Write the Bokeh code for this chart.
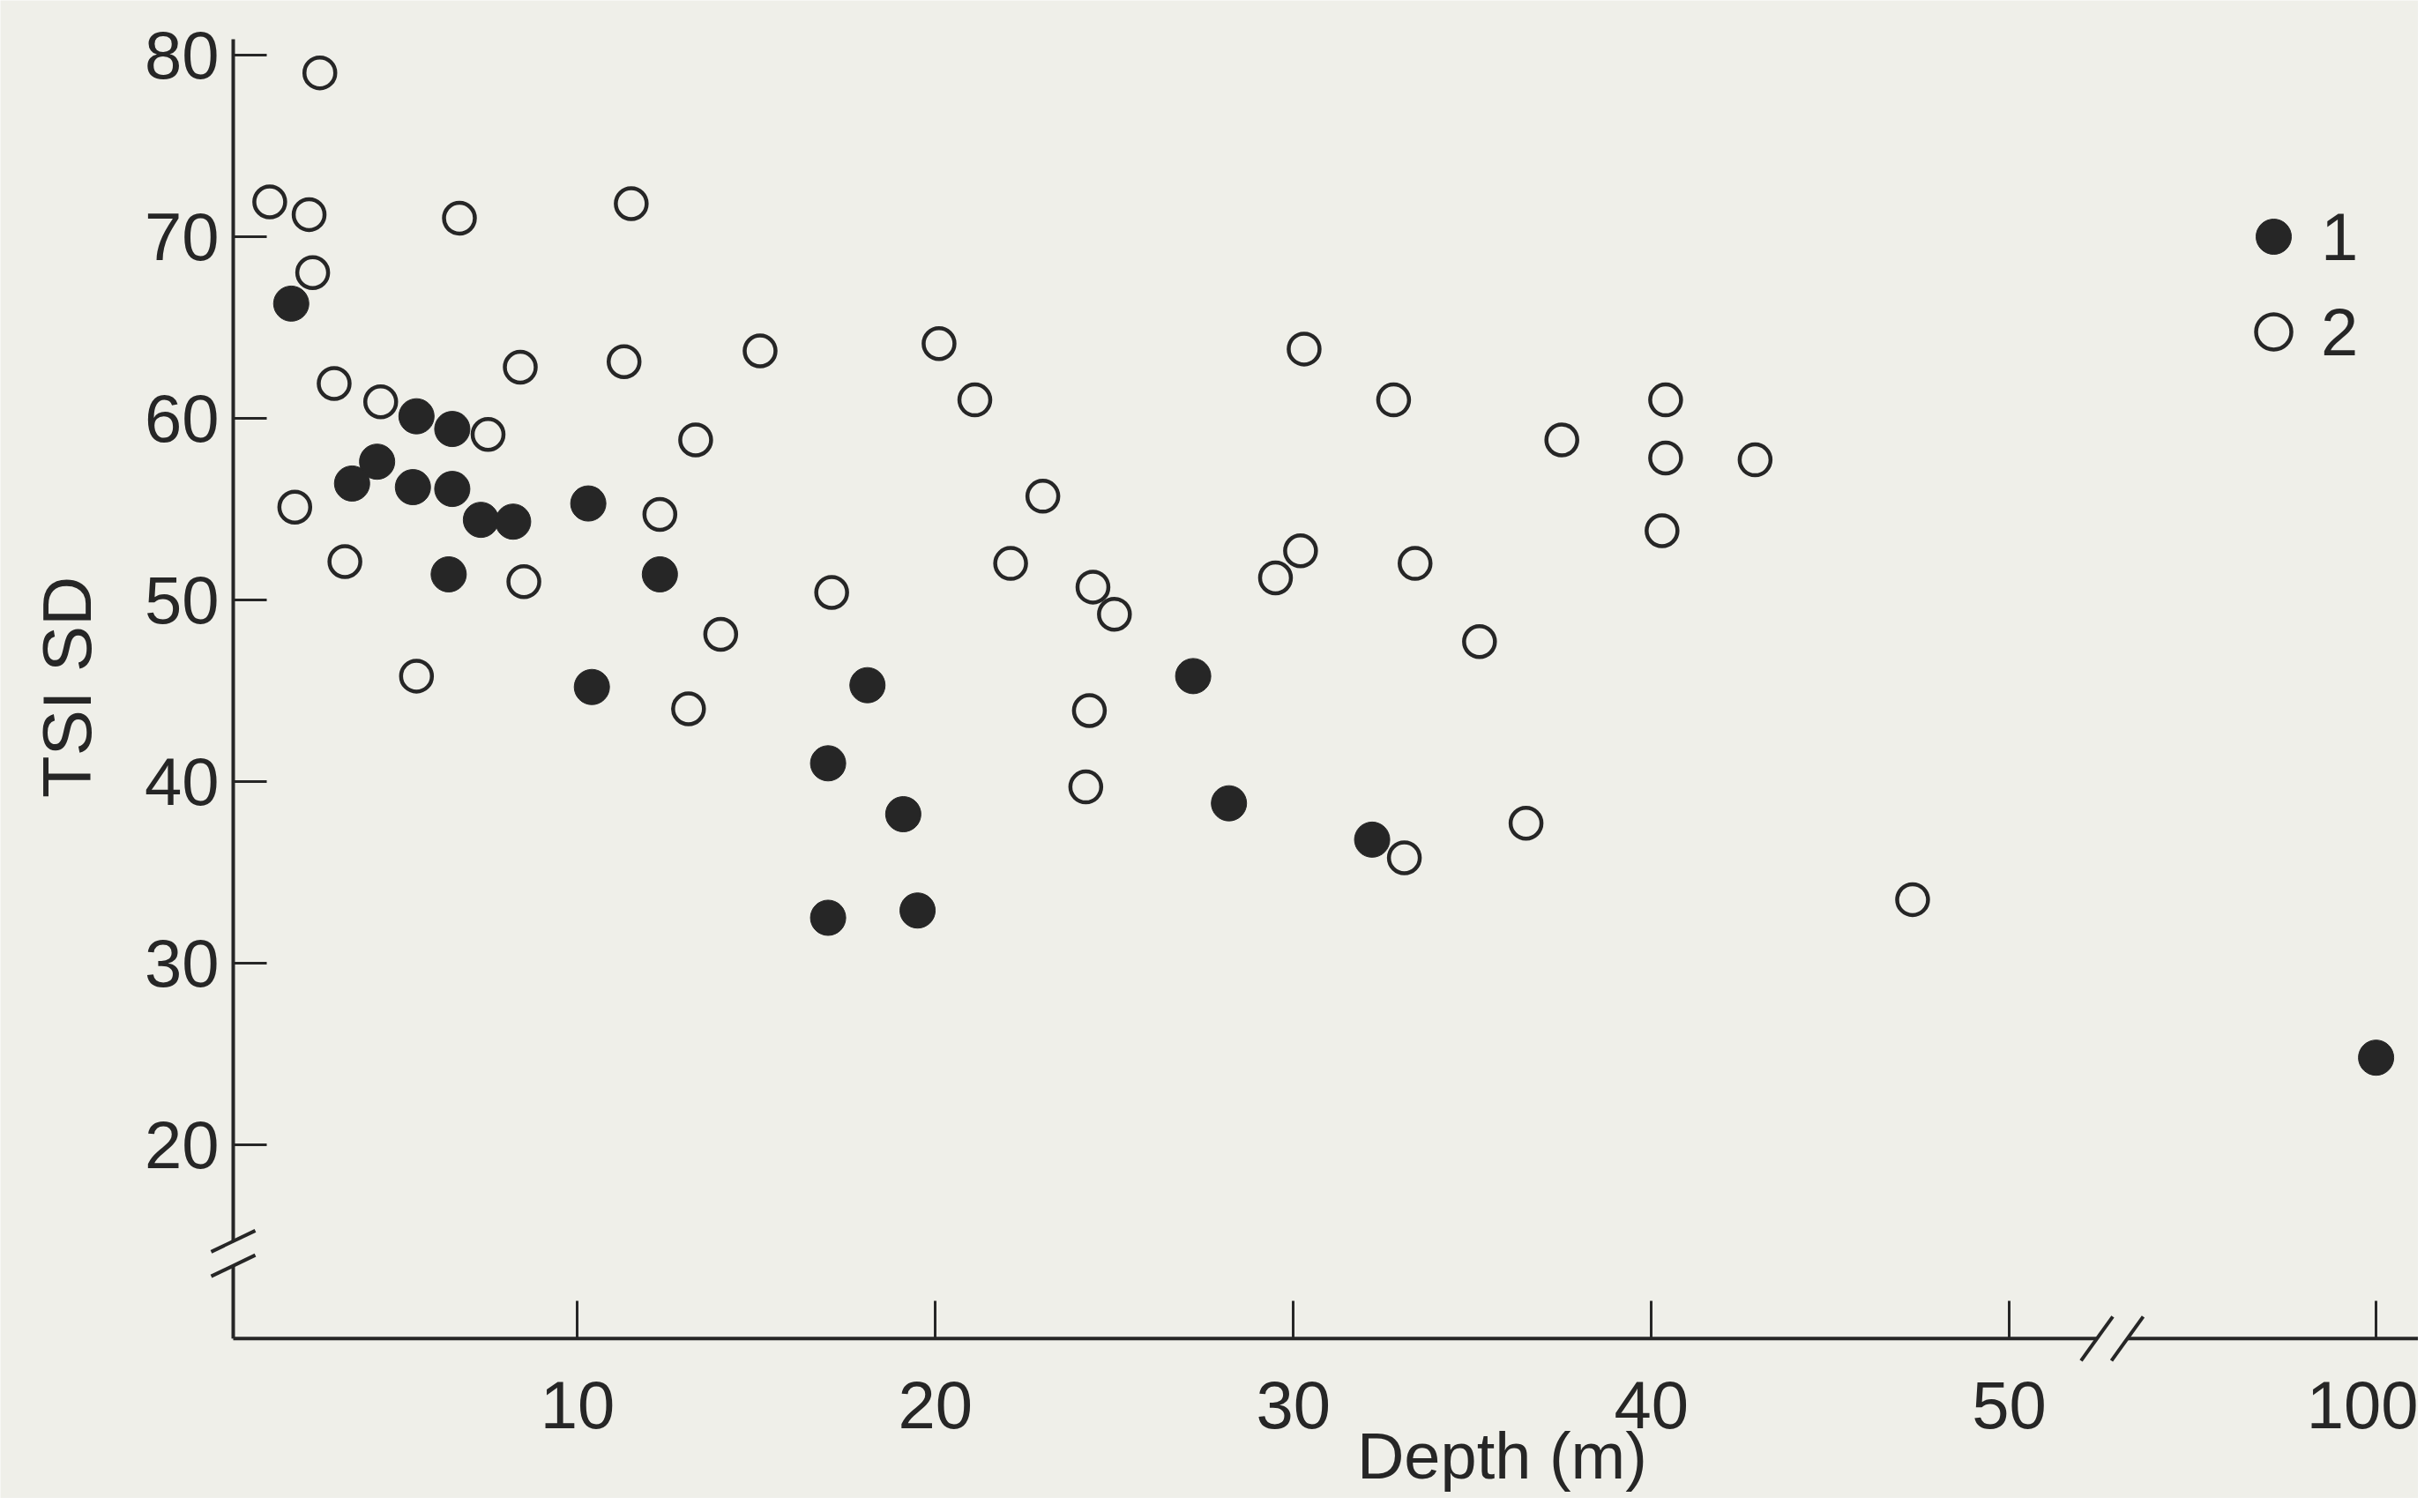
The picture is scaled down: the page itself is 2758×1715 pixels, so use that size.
import math
from bokeh.plotting import figure
from bokeh.models import (Range1d, FixedTicker, Legend, LegendItem, Label, Arrow,
                          ColumnDataSource)
from bokeh.embed import file_html
from bokeh.resources import INLINE

# ---------------- data ----------------
filled_depth = [2.0, 5.5, 6.5, 4.4, 3.7, 5.4, 6.5, 7.3, 8.2, 10.3, 6.4, 12.3,
                10.4, 18.1, 17.0, 19.1, 17.0, 19.5, 27.2, 28.2, 32.2, 100]
filled_tsi = [66.3, 60.1, 59.4, 57.6, 56.4, 56.2, 56.1, 54.4, 54.3, 55.3, 51.4, 51.4,
              45.2, 45.3, 41.0, 38.2, 32.5, 32.9, 45.8, 38.8, 36.8, 24.8]

open_depth = [2.8, 1.4, 2.5, 2.6, 6.7, 11.5, 3.2, 4.5, 7.5, 8.4, 11.3, 15.1, 20.1,
              21.1, 13.3, 2.1, 12.3, 3.5, 8.5, 17.1, 14.0, 5.5, 13.1, 23.0, 22.1,
              24.4, 25.0, 24.3, 24.2, 30.3, 30.2, 29.5, 32.8, 33.4, 35.2, 33.1,
              36.5, 37.5, 40.4, 40.4, 40.3, 42.9, 47.3]
open_tsi = [79.0, 71.9, 71.2, 68.0, 71.0, 71.8, 61.9, 60.9, 59.1, 62.8, 63.1, 63.7,
            64.1, 61.0, 58.8, 55.1, 54.7, 52.1, 51.0, 50.4, 48.1, 45.8, 44.0, 55.7,
            52.0, 50.7, 49.2, 43.9, 39.7, 63.8, 52.7, 51.2, 61.0, 52.0, 47.7, 35.8,
            37.7, 58.8, 61.0, 57.8, 53.8, 57.7, 33.5]

series_labels = ["1", "2"]
x_tick_values = [10, 20, 30, 40, 50, 100]
y_tick_values = [20, 30, 40, 50, 60, 70, 80]
x_title = "Depth (m)"
y_title = "TSI SD"

# ---------------- axis break handling ----------------
BREAK_AT = 50          # depths above this are drawn after the break
BREAK_SHIFT = 39.75    # 100 m is drawn where 60.25 would be


def fold(d):
    return d if d <= BREAK_AT else d - BREAK_SHIFT


# ---------------- layout / style ----------------
INK = "#262626"
BG = "#efefe9"
FONT = "Liberation Sans"

FIG_W, FIG_H = 2742, 1699
# the frame fills the whole figure; the axes sit inside it at fixed places
X_LO, X_HI = -6.124, 61.43
Y_LO, Y_HI = 0.549, 82.985
PX_X = FIG_W / (X_HI - X_LO)
PX_Y = FIG_H / (Y_HI - Y_LO)

X_AXIS_AT = 9.34     # y value where the depth axis runs
Y_AXIS_AT = 0.38     # x value where the TSI axis runs
Y_AXIS_TOP = 80.85

p = figure(width=FIG_W, height=FIG_H, output_backend="svg", toolbar_location=None,
           title=None, x_range=Range1d(X_LO, X_HI), y_range=Range1d(Y_LO, Y_HI),
           min_border=0)
p.background_fill_color = BG
p.border_fill_color = BG
p.outline_line_color = None
p.grid.grid_line_color = None

src_f = ColumnDataSource(dict(x=[fold(d) for d in filled_depth], y=filled_tsi))
src_o = ColumnDataSource(dict(x=[fold(d) for d in open_depth], y=open_tsi))

r_f = p.scatter("x", "y", source=src_f, marker="circle", size=40,
                fill_color=INK, line_color=INK, line_width=1)
r_o = p.scatter("x", "y", source=src_o, marker="circle", size=35,
                fill_color=None, line_color=INK, line_width=4.5)

# axes
p.xaxis.ticker = FixedTicker(ticks=[fold(v) for v in x_tick_values])
p.xaxis.major_label_overrides = {fold(v): str(v) for v in x_tick_values}
p.yaxis.ticker = FixedTicker(ticks=y_tick_values)
p.xaxis.fixed_location = X_AXIS_AT
p.yaxis.fixed_location = Y_AXIS_AT

for ax in (p.xaxis[0], p.yaxis[0]):
    ax.axis_line_color = None
    ax.minor_tick_line_color = None
    ax.major_tick_out = 0
    ax.major_tick_line_color = INK
    ax.major_tick_line_width = 3
    ax.major_label_text_font = FONT
    ax.major_label_text_font_size = "76px"
    ax.major_label_text_color = INK

p.xaxis.major_tick_in = 43
p.xaxis.major_label_standoff = 49
p.yaxis.major_tick_in = 38
p.yaxis.major_label_standoff = 16

# axis titles
p.add_layout(Label(x=Y_AXIS_AT - 188 / PX_X, y=45.2, text=y_title, angle=math.pi / 2,
                   text_align="center", text_baseline="middle",
                   text_font=FONT, text_font_size="78px", text_color=INK))
p.add_layout(Label(x=35.83, y=X_AXIS_AT - 92 / PX_Y, text=x_title,
                   text_align="center", text_baseline="top",
                   text_font=FONT, text_font_size="74px", text_color=INK))

# axis lines with break marks
Y_BREAK_HI, Y_BREAK_LO = 14.7, 13.35
X_BREAK_LO, X_BREAK_HI = 52.45, 53.3
LW = 4


def seg(x0, y0, x1, y1):
    p.add_layout(Arrow(end=None, x_start=x0, y_start=y0, x_end=x1, y_end=y1,
                       line_color=INK, line_width=LW))


# TSI axis (two pieces)
seg(Y_AXIS_AT, Y_AXIS_TOP, Y_AXIS_AT, Y_BREAK_HI)
seg(Y_AXIS_AT, Y_BREAK_LO, Y_AXIS_AT, X_AXIS_AT)
for yc in (Y_BREAK_HI, Y_BREAK_LO):
    seg(Y_AXIS_AT - 25 / PX_X, yc - 12 / PX_Y, Y_AXIS_AT + 25 / PX_X, yc + 12 / PX_Y)
# depth axis (two pieces)
seg(Y_AXIS_AT, X_AXIS_AT, X_BREAK_LO, X_AXIS_AT)
seg(X_BREAK_HI, X_AXIS_AT, X_HI, X_AXIS_AT)
for xc in (X_BREAK_LO, X_BREAK_HI):
    seg(xc - 18 / PX_X, X_AXIS_AT - 25 / PX_Y, xc + 18 / PX_X, X_AXIS_AT + 25 / PX_Y)

# legend (position in screen pixels from the frame's bottom-left)
legend = Legend(items=[LegendItem(label=series_labels[0], renderers=[r_f]),
                       LegendItem(label=series_labels[1], renderers=[r_o])],
                location=(2528, 1273), glyph_width=100, glyph_height=100,
                spacing=8, padding=0, margin=0, label_standoff=4,
                border_line_color=None, background_fill_alpha=0,
                label_text_font=FONT, label_text_font_size="76px",
                label_text_color=INK)
p.add_layout(legend)

open("out.html", "w").write(file_html(p, INLINE))
